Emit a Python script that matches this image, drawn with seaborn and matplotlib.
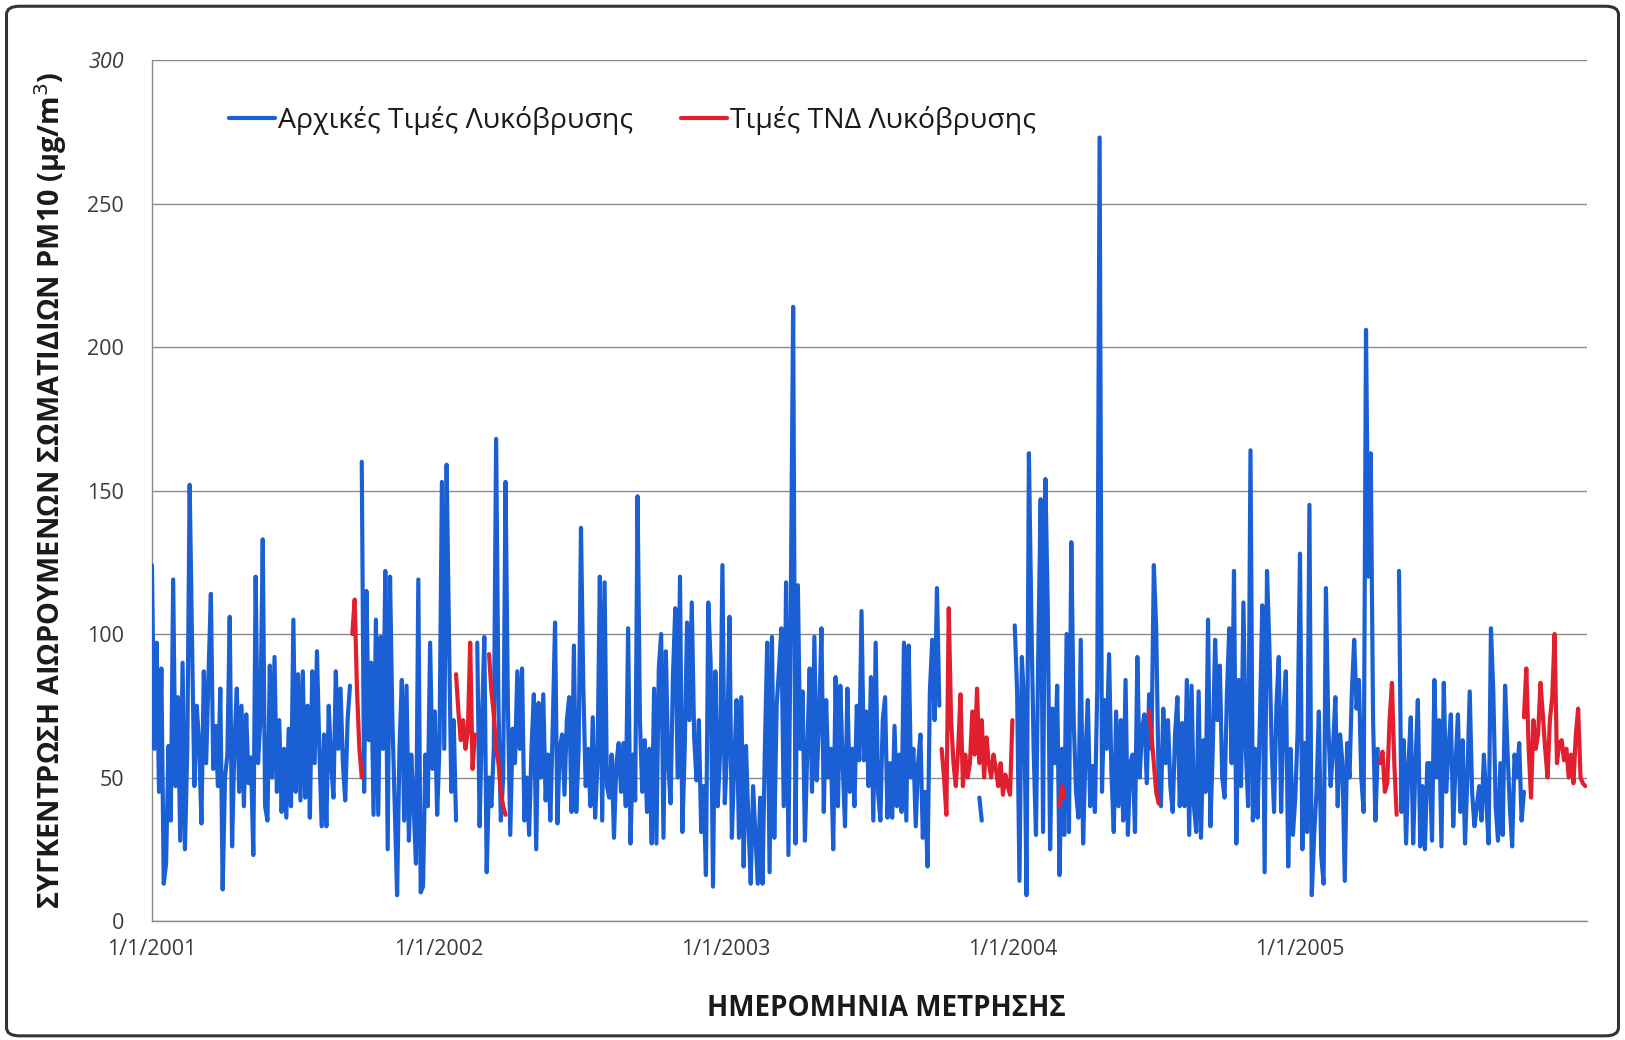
import numpy as np
import pandas as pd
import matplotlib
matplotlib.use("Agg")
import matplotlib.pyplot as plt
from matplotlib.lines import Line2D
from matplotlib.patches import FancyBboxPatch
import seaborn as sns

nan = np.nan

# Daily PM10 at Lykovrysi, sampled every third day from 1/1/2001
start_date = "2001-01-01"
step_days = 3

measured_2001a = [124, 60, 97, 45, 88, 13, 20, 61, 35, 119,
                  47, 78, 28, 90, 25, 60, 152, 98, 47, 75,
                  62, 34, 87, 55, 86, 114, 53, 68, 47, 81,
                  11, 50, 58, 106, 26, 62, 81, 45, 75, 40,
                  72, 48, 57, 23, 120, 55, 70, 133, 40, 35,
                  89, 50, 92, 45, 70, 38, 60, 36, 67, 40,
                  105, 45, 86, 42, 87, 43, 75, 36, 87, 55,
                  94, 60, 33, 65, 33, 75, 55, 43, 87, 60,
                  81, 55, 42, 70, 82]
gap_1 = [nan] * 4
measured_2001b = [160, 45, 115, 63, 90, 37, 105, 37, 99, 60,
                  122, 25, 120, 70, 40, 9, 60, 84, 35, 82,
                  28, 58, 40, 20, 119, 10, 12, 58, 40, 97,
                  53, 73, 37, 62, 153, 60, 159, 100, 45, 70,
                  35]
gap_2 = [nan] * 8
measured_2002_2003 = [97, 33, 70, 99, 17, 50, 40, 60, 168, 75, 35, 50, 153,
                      75, 30, 67, 55, 87, 60, 88, 35, 50, 30,
                      60, 79, 25, 76, 50, 79, 42, 58, 35, 67,
                      104, 34, 60, 65, 44, 70, 78, 38, 96, 38,
                      60, 137, 81, 47, 60, 40, 71, 36, 55, 120,
                      35, 118, 47, 43, 58, 29, 55, 62, 45, 62,
                      40, 102, 27, 58, 42, 148, 70, 45, 63, 38,
                      60, 27, 81, 27, 88, 100, 29, 94, 55, 41,
                      85, 109, 50,
                      120, 31, 60, 104, 70, 111, 64, 49, 70, 31,
                      47, 16, 111, 90, 12, 87, 40, 58, 124, 41,
                      60, 106, 29, 55, 77, 29, 78, 19, 61, 35,
                      13, 47, 30, 13, 43, 13, 60, 97, 17, 99,
                      29, 75, 88, 102, 40, 118, 23, 111, 214, 27,
                      117, 60, 80, 28, 60, 88, 45, 99, 49, 70,
                      102, 38, 77, 50, 60, 25, 85, 40, 82, 55,
                      33, 81, 45, 60,
                      40, 75, 56, 108, 56, 73, 47, 85, 35, 97,
                      45, 35, 70, 78, 36, 55, 36, 68, 40, 58,
                      38, 97, 35, 96, 50, 60, 33, 55, 65, 29,
                      45, 19, 80, 98, 70, 116, 75]
gap_3 = [nan] * 16 + [43, 35] + [nan] * 13
measured_2004_2005 = [103, 80, 14, 92, 76, 9, 163, 108, 60, 30, 95,
                      147, 31, 154, 109, 25, 74, 55, 82, 16, 60,
                      30, 100, 31, 132, 70, 45, 36, 98, 27, 58,
                      77, 40, 54, 38, 81, 273, 45, 77, 60, 93,
                      52, 31, 73, 40, 70, 35, 84, 30, 55, 58,
                      31, 92, 50, 67, 72, 48, 79, 60, 124, 102,
                      50, 40, 74, 55, 70, 47, 38, 65, 78, 40,
                      69, 40, 84, 30, 82, 40, 31, 80, 29, 63,
                      45, 105, 33, 60, 98, 70,
                      89, 50, 43, 79, 102, 55, 122, 27, 84, 47,
                      111, 60, 40, 164, 35, 60, 36, 70, 110, 17,
                      122, 96, 60, 38, 75, 92, 38, 73, 87, 19,
                      60, 30, 43, 66, 128, 25, 62, 31, 145, 9,
                      30, 45, 73, 23, 13, 116, 68, 47, 60, 78,
                      40, 65, 55, 14, 62, 50, 80, 98, 74, 84,
                      50, 38, 206, 120, 163, 70, 35, 60]
gap_4 = [nan] * 8
measured_2005 = [122, 38, 63, 27, 55, 71, 27, 55, 77, 26,
                 47, 25, 55, 55, 28, 84, 50, 70, 26, 83,
                 45, 60, 72, 33, 55, 72, 38, 63, 27, 50,
                 80, 45, 33, 40, 47, 35, 58, 42, 27, 102,
                 80, 40, 28, 55, 30, 82, 60, 40, 26, 58,
                 50, 62, 35, 45]
gap_5 = [nan] * 26

# Neural-network estimates (ΤΝΔ) filling the gaps: start sample index and values
ann_start = [85, 129, 143, 335, 385, 423, 521, 582]
ann_values = [
    [100, 112, 80, 60, 50],
    [86, 73, 63, 70, 60, 66, 97, 53, 65],
    [93, 80, 72, 60, 55, 45, 40, 37],
    [60, 50, 37, 109, 70, 55, 47, 60, 79, 47, 58, 50, 55, 73, 58, 81,
     55, 70, 50, 64, 55, 50, 58, 53, 47, 55, 44, 51, 47, 44, 70],
    [40, 47, 43],
    [73, 65, 55, 45, 41],
    [55, 59, 45, 48, 70, 83, 55, 37],
    [71, 88, 60, 43, 70, 60, 65, 83, 72, 60, 50, 70, 78, 100, 55, 62,
     63, 56, 60, 50, 58, 48, 65, 74, 50, 48, 47],
]

year_ticks = ["2001-01-01", "2002-01-01", "2003-01-01", "2004-01-01", "2005-01-01"]
year_labels = ["1/1/2001", "1/1/2002", "1/1/2003", "1/1/2004", "1/1/2005"]
y_ticks = [0, 50, 100, 150, 200, 250, 300]

label_measured = "Αρχικές Τιμές Λυκόβρυσης"
label_ann = "Τιμές ΤΝΔ Λυκόβρυσης"
x_title = "ΗΜΕΡΟΜΗΝΙΑ ΜΕΤΡΗΣΗΣ"
y_title = "ΣΥΓΚΕΝΤΡΩΣΗ ΑΙΩΡΟΥΜΕΝΩΝ ΣΩΜΑΤΙΔΙΩΝ PM10 (μg/m$^3$)"

BLUE = "#1a5fd4"
RED = "#e0202e"
GRID = "#8a8a8a"
TEXT = "#3a3a3a"
LW = 3.0

measured = np.array(measured_2001a + gap_1 + measured_2001b + gap_2 + measured_2002_2003
                    + gap_3 + measured_2004_2005 + gap_4 + measured_2005 + gap_5, dtype=float)
n = len(measured)
dates = pd.date_range(start_date, periods=n, freq=f"{step_days}D")

ann = np.full(n, np.nan)
for s, vals in zip(ann_start, ann_values):
    ann[s:s + len(vals)] = vals


def runs_frame(vals):
    """Long frame with a run id so that gaps break the line."""
    df = pd.DataFrame({"date": dates, "value": vals})
    df["run"] = df["value"].isna().cumsum()
    return df.dropna(subset=["value"])


sns.set_theme(style="white")
plt.rcParams["font.family"] = ["Open Sans", "DejaVu Sans"]

fig = plt.figure(figsize=(16.25, 10.4), dpi=100)
ax = fig.add_axes([0.0935, 0.1144, 0.883, 0.8279])

sns.lineplot(data=runs_frame(measured), x="date", y="value", units="run",
             estimator=None, color=BLUE, lw=LW, ax=ax, legend=False, zorder=3)
sns.lineplot(data=runs_frame(ann), x="date", y="value", units="run",
             estimator=None, color=RED, lw=LW, ax=ax, legend=False, zorder=4)

ax.set_xlim(pd.Timestamp("2001-01-01"), pd.Timestamp("2006-01-01"))
ax.set_ylim(0, 300)
ax.set_yticks(y_ticks)
ax.set_yticklabels([str(v) for v in y_ticks])
ax.set_xticks([pd.Timestamp(t) for t in year_ticks])
ax.set_xticklabels(year_labels)

ax.grid(axis="y", color=GRID, lw=1.0)
ax.grid(axis="x", visible=False)
ax.set_axisbelow(True)
for side in ["top", "right"]:
    ax.spines[side].set_visible(False)
for side in ["left", "bottom"]:
    ax.spines[side].set_color(GRID)
    ax.spines[side].set_linewidth(1.0)

ax.tick_params(axis="x", length=6, width=1, color=GRID, direction="out",
               labelsize=15.5, labelcolor=TEXT, pad=7)
ax.tick_params(axis="y", length=14, width=1, color=GRID, direction="out",
               labelsize=15.5, labelcolor=TEXT, pad=6)
for lab in ax.get_yticklabels():
    if lab.get_text() == "300":
        lab.set_fontstyle("italic")

ax.set_xlabel(x_title, fontsize=20, fontweight="bold", color="#1a1a1a")
ax.xaxis.set_label_coords(0.512, -0.085)
ax.set_ylabel(y_title, fontsize=20.8, fontweight="bold", color="#1a1a1a")
ax.yaxis.set_label_coords(-0.058, 0.50)

handles = [Line2D([0], [0], color=BLUE, lw=LW),
           Line2D([0], [0], color=RED, lw=LW)]
ax.legend(handles, [label_measured, label_ann], loc="center left",
          bbox_to_anchor=(0.054, 0.93), ncol=2, frameon=False,
          fontsize=20.5, handlelength=1.6, handletextpad=0.1,
          columnspacing=1.7, borderpad=0, borderaxespad=0,
          labelcolor="#1a1a1a")

frame = FancyBboxPatch((0.004, 0.004), 0.992, 0.99,
                       boxstyle="round,pad=0,rounding_size=0.008",
                       transform=fig.transFigure, fill=False,
                       edgecolor="#333333", lw=2.2, zorder=0)
fig.patches.append(frame)

fig.savefig("out.png", dpi=100, facecolor="white")
